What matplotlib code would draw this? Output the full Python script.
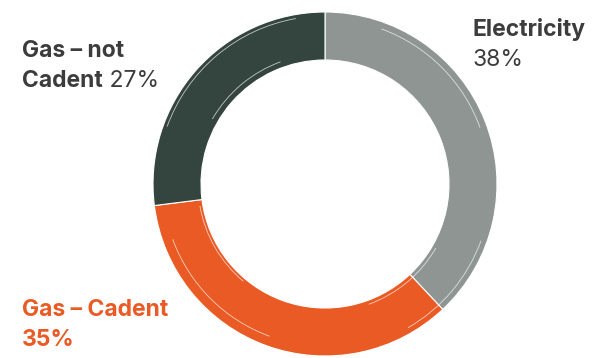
import matplotlib.pyplot as plt
from matplotlib.patches import Arc

plt.rcParams['font.family'] = ['Inter', 'DejaVu Sans']

# energy split, clockwise from 12 o'clock
labels = ['Electricity', 'Gas – Cadent', 'Gas – not Cadent']
shares = [38, 35, 27]
colors = ['#8f9593', '#e95a24', '#34443f']

W, H = 594, 358
text_dark = '#3c3c3c'
cx, cy = 325, H - 184

fig = plt.figure(figsize=(W / 100, H / 100), dpi=100)
ax = fig.add_axes([0, 0, 1, 1])

ax.pie(shares, colors=colors, startangle=90, counterclock=False,
       center=(cx, cy), radius=172,
       wedgeprops=dict(width=48, edgecolor='white', linewidth=0.8))

# a few thin white streaks for the brush look
for r, a1, a2 in [(168, 100, 160), (165, 20, 70), (162, 200, 250),
                  (130, 110, 150), (128, 290, 330), (166, 300, 340),
                  (127, 190, 230)]:
    ax.add_patch(Arc((cx, cy), 2 * r, 2 * r, theta1=a1, theta2=a2,
                     color='white', lw=0.6, alpha=0.7))

ax.set_xlim(0, W)
ax.set_ylim(0, H)
ax.set_aspect('equal')
ax.axis('off')

fs = 16.5

# Gas - not Cadent
ax.text(22, H - 57, 'Gas – not', fontsize=fs, fontweight='bold', color=text_dark)
t = ax.text(22, H - 87, 'Cadent', fontsize=fs, fontweight='bold', color=text_dark)
ax.annotate(f' {shares[2]}%', xy=(1, 0), xycoords=t, fontsize=fs,
            color=text_dark, va='bottom')

# Electricity
ax.text(473, H - 36, 'Electricity', fontsize=fs, fontweight='bold', color=text_dark)
ax.text(473, H - 66, f'{shares[0]}%', fontsize=fs, color=text_dark)

# Gas - Cadent
ax.text(22, H - 316, 'Gas – Cadent', fontsize=fs, fontweight='bold', color=colors[1])
ax.text(22, H - 346, f'{shares[1]}%', fontsize=fs, fontweight='bold', color=colors[1])

fig.savefig('out.png', dpi=100)
